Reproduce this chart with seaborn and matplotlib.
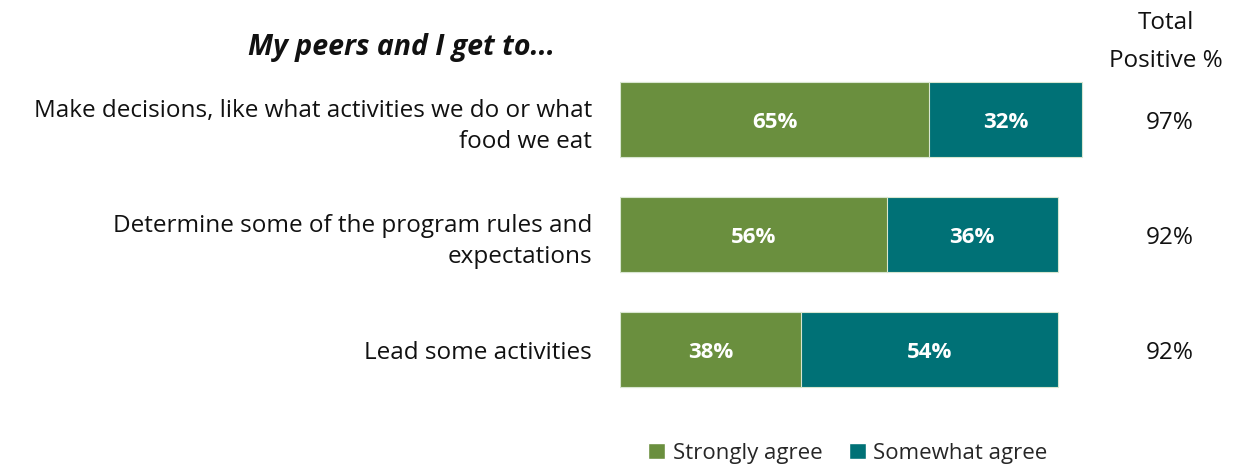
import matplotlib
matplotlib.use("Agg")
import matplotlib.pyplot as plt
import seaborn as sns
import pandas as pd
from matplotlib.patches import Patch

categories = [
    "Make decisions, like what activities we do or what\nfood we eat",
    "Determine some of the program rules and\nexpectations",
    "Lead some activities",
]
strongly_agree = [65, 56, 38]
somewhat_agree = [32, 36, 54]
total_positive = [97, 92, 92]
series_names = ["Strongly agree", "Somewhat agree"]

GREEN = "#6A8F3E"
TEAL = "#007176"
INK = "#111111"

sns.set_theme(style="white")
plt.rcParams["font.family"] = ["Open Sans", "DejaVu Sans"]

df = pd.DataFrame({
    "item": categories,
    "strong": strongly_agree,
    "somewhat": somewhat_agree,
    "total": [a + b for a, b in zip(strongly_agree, somewhat_agree)],
})

fig = plt.figure(figsize=(12.35, 4.65), dpi=100)
ax = fig.add_axes([620 / 1235, 1 - 407 / 465, 476 / 1235, 345 / 465])

# Full stacked length first, then the "strongly agree" part over it
sns.barplot(data=df, x="total", y="item", color=TEAL, saturation=1,
            width=0.65, ax=ax, edgecolor="#d8e6d0", linewidth=0.8)
sns.barplot(data=df, x="strong", y="item", color=GREEN, saturation=1,
            width=0.65, ax=ax, edgecolor="#d8e6d0", linewidth=0.8)

for i, (s, w) in enumerate(zip(strongly_agree, somewhat_agree)):
    ax.text(s / 2, i, f"{s}%", ha="center", va="center_baseline",
            color="white", fontsize=16, fontweight="bold")
    ax.text(s + w / 2, i, f"{w}%", ha="center", va="center_baseline",
            color="white", fontsize=16, fontweight="bold")

ax.set_xlim(0, 100)
ax.set_ylim(2.5, -0.5)
ax.set_xlabel("")
ax.set_ylabel("")
ax.set_xticks([])
ax.set_yticks(range(len(categories)))
ax.set_yticklabels(categories, fontsize=17.5, color=INK, linespacing=1.4)
ax.tick_params(axis="y", length=0, pad=20)
sns.despine(ax=ax, left=True, bottom=True)

# Total positive column
for i, t in enumerate(total_positive):
    ax.annotate(f"{t}%", xy=(1170 / 1235, i),
                xycoords=("figure fraction", "data"),
                ha="center", va="center_baseline", fontsize=17.5, color=INK)

fig.text(1166 / 1235, 1 - 42 / 465, "Total\nPositive %", ha="center",
         va="center", fontsize=17.5, color=INK, linespacing=1.75)

fig.text(555 / 1235, 1 - 47 / 465, "My peers and I get to...", ha="right",
         va="center", fontsize=20.5, fontweight="bold", fontstyle="italic",
         color=INK)

handles = [Patch(facecolor=GREEN, label=series_names[0]),
           Patch(facecolor=TEAL, label=series_names[1])]
fig.legend(handles=handles, loc="center",
           bbox_to_anchor=(848 / 1235, 1 - 453 / 465),
           ncol=2, frameon=False, fontsize=16, handlelength=0.75,
           handleheight=0.75, handletextpad=0.35, columnspacing=1.2)

fig.savefig("out.png", dpi=100)
